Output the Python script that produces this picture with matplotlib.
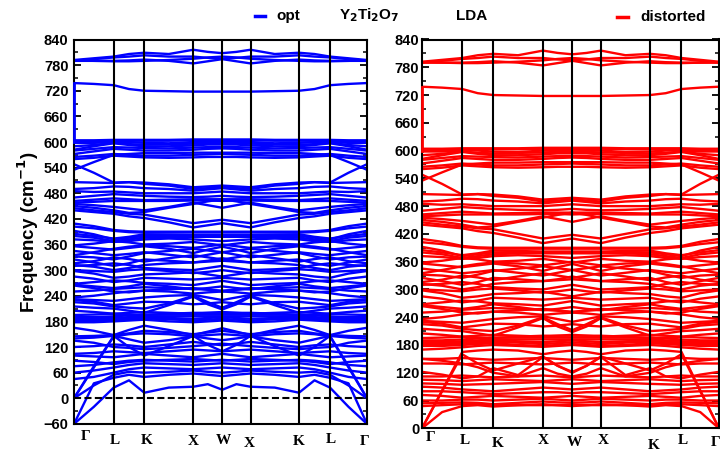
import numpy as np
import matplotlib
matplotlib.use("Agg")
import matplotlib.pyplot as plt
from matplotlib.lines import Line2D
from matplotlib.ticker import MultipleLocator

plt.rcParams['font.family'] = ['Liberation Sans', 'DejaVu Sans']
plt.rcParams['mathtext.default'] = 'bf'

# high-symmetry points along the Brillouin-zone path
kpoint_labels = ['Γ', 'L', 'K', 'X', 'W', 'X', 'K', 'L', 'Γ']
kpoint_pos = [0.0, 39.7, 70.3, 119.3, 148.3, 176.5, 225.0, 256.0, 293.0]

# phonon frequencies (cm^-1) at Γ, ½ΓL, L, ½LK, K, ½KX, X, ½XW, W
# (the path W -> X -> K -> L -> Γ retraces the same points)
upper_bands = [
    [792, 796, 800, 806, 809, 806, 816, 811, 808],
    [790, 794, 798, 800, 803, 800, 800, 797, 795],
    [790, 790, 790, 791, 793, 790, 784, 789, 794],
    [791, 790, 789, 789, 790, 792, 795, 798, 800],
    [738, 736, 733, 724, 720, 719, 718, 718, 718],
    [604, 604, 605, 605, 605, 605, 606, 606, 606],
    [600, 601, 602, 603, 603, 603, 604, 603, 603],
    [598, 598, 600, 600, 598, 597, 600, 600, 600],
    [590, 593, 598, 595, 594, 595, 596, 597, 597],
    [582, 590, 597, 593, 590, 590, 592, 594, 594],
    [580, 584, 588, 587, 586, 585, 587, 588, 588],
    [572, 578, 584, 582, 580, 580, 582, 584, 585],
    [565, 568, 572, 570, 568, 568, 570, 571, 572],
    [560, 563, 568, 566, 564, 563, 564, 565, 565],
    [535, 553, 570, 572, 574, 574, 575, 575, 575],
    [548, 528, 505, 506, 502, 498, 490, 492, 495],
    [506, 505, 504, 506, 505, 501, 494, 496, 498],
    [490, 492, 496, 495, 492, 490, 486, 489, 492],
    [485, 483, 484, 482, 480, 480, 480, 482, 484],
    [470, 474, 478, 476, 474, 472, 471, 472, 474],
    [462, 465, 468, 466, 464, 465, 466, 466, 466],
    [458, 460, 462, 462, 462, 462, 463, 463, 462],
    [455, 452, 448, 444, 440, 448, 458, 452, 446],
    [450, 446, 440, 434, 436, 446, 455, 461, 466],
    [445, 440, 436, 432, 430, 420, 410, 414, 418],
    [440, 436, 432, 426, 422, 412, 400, 405, 410],
    [409, 403, 394, 391, 390, 390, 390, 390, 390],
    [402, 398, 392, 389, 388, 388, 388, 388, 388],
    [392, 384, 372, 376, 380, 380, 380, 380, 380],
    [385, 380, 374, 378, 384, 383, 382, 382, 382],
    [380, 376, 368, 372, 376, 378, 378, 378, 378],
    [372, 370, 366, 368, 372, 374, 372, 370, 368],
    [358, 362, 368, 365, 360, 362, 366, 362, 358],
    [356, 352, 348, 352, 356, 350, 340, 348, 355],
    [345, 340, 335, 338, 342, 336, 330, 336, 342],
    [335, 342, 350, 355, 358, 356, 352, 356, 360],
    [332, 330, 325, 332, 340, 345, 350, 346, 342],
    [325, 318, 310, 316, 325, 322, 318, 322, 328],
    [316, 321, 330, 326, 320, 328, 335, 330, 325],
    [312, 308, 300, 305, 312, 316, 318, 320, 322],
    [310, 312, 316, 312, 305, 302, 300, 305, 310],
    [300, 298, 296, 300, 302, 298, 293, 296, 300],
    [298, 292, 282, 285, 290, 292, 295, 290, 285],
    [285, 280, 272, 276, 282, 280, 278, 280, 282],
    [268, 272, 276, 274, 270, 268, 265, 270, 275],
    [266, 262, 258, 262, 268, 262, 255, 258, 262],
    [264, 258, 250, 248, 252, 255, 258, 255, 250],
    [250, 252, 256, 258, 260, 258, 256, 254, 252],
    [236, 240, 246, 250, 252, 250, 245, 248, 250],
    [232, 230, 228, 232, 236, 240, 242, 236, 230],
    [230, 226, 218, 222, 226, 225, 220, 222, 225],
    [225, 222, 215, 212, 210, 222, 240, 225, 212],
    [215, 212, 210, 205, 200, 218, 238, 220, 208],
    [205, 202, 198, 196, 195, 198, 200, 200, 200],
    [195, 196, 198, 200, 202, 200, 198, 200, 202],
    [190, 190, 192, 194, 196, 196, 196, 196, 196],
    [186, 187, 188, 190, 192, 192, 192, 192, 192],
    [183, 184, 186, 188, 190, 188, 186, 188, 190],
    [180, 181, 183, 185, 187, 185, 182, 184, 186],
    [178, 178, 180, 182, 184, 180, 178, 180, 182],
]

# optimised structure: low-frequency branches (unstable modes at Γ)
opt_low_bands = [
    [-60, -20, 25, 42, 13, 25, 27, 33, 20],
    [-60, 35, 48, 55, 50, 55, 58, 55, 52],
    [0, 30, 55, 62, 60, 62, 65, 62, 60],
    [0, 75, 146, 120, 100, 122, 146, 125, 110],
    [0, 72, 145, 150, 152, 150, 145, 148, 150],
    [45, 50, 60, 68, 72, 70, 68, 70, 72],
    [60, 65, 72, 78, 82, 80, 78, 80, 82],
    [75, 78, 84, 88, 90, 88, 86, 88, 90],
    [88, 85, 80, 85, 88, 90, 92, 90, 88],
    [100, 98, 96, 100, 104, 100, 96, 100, 104],
    [104, 106, 110, 108, 106, 110, 114, 112, 110],
    [120, 122, 126, 124, 120, 126, 132, 128, 124],
    [135, 130, 120, 118, 115, 118, 122, 125, 128],
    [140, 142, 146, 138, 130, 136, 145, 140, 136],
    [145, 146, 148, 160, 170, 160, 148, 156, 164],
    [165, 158, 148, 152, 158, 155, 150, 154, 158],
]

# distorted structure: low-frequency branches
dist_low_bands = [
    [0, 35, 48, 50, 47, 50, 52, 50, 48],
    [0, 80, 160, 140, 125, 140, 155, 135, 120],
    [0, 82, 165, 168, 170, 168, 160, 165, 168],
    [48, 50, 52, 52, 50, 50, 50, 50, 50],
    [54, 55, 56, 55, 52, 55, 58, 56, 55],
    [60, 60, 62, 62, 60, 62, 64, 62, 60],
    [72, 70, 66, 68, 70, 68, 66, 68, 70],
    [80, 80, 78, 76, 74, 76, 78, 78, 76],
    [90, 88, 84, 82, 80, 84, 88, 86, 84],
    [97, 96, 94, 95, 96, 98, 100, 98, 96],
    [105, 104, 102, 104, 106, 104, 102, 104, 106],
    [112, 112, 114, 112, 110, 112, 114, 112, 110],
    [122, 116, 108, 112, 130, 115, 154, 135, 122],
    [140, 140, 138, 140, 142, 140, 138, 140, 142],
    [150, 146, 140, 132, 120, 112, 130, 118, 112],
    [150, 150, 152, 150, 148, 150, 152, 150, 148],
    [170, 172, 175, 178, 180, 178, 176, 178, 180],
]

# LO-TO splitting drawn as a vertical jump at Γ
gamma_jump = [600, 738]


def path_grid(pos):
    grid = []
    for a, b in zip(pos[:-1], pos[1:]):
        grid += [a, (a + b) / 2]
    grid.append(pos[-1])
    return np.array(grid)


def full_path(half):
    return list(half) + list(half[-2::-1])


def draw_panel(ax, bands, color, ymin, label_dx, label_y):
    grid = path_grid(kpoint_pos)
    for b in bands:
        ax.plot(grid, full_path(b), color=color, lw=1.7, zorder=2)
    ax.plot([kpoint_pos[0]] * 2, gamma_jump, color=color, lw=2,
            clip_on=False, zorder=4)
    for x in kpoint_pos[1:-1]:
        ax.axvline(x, color='k', lw=1.5, zorder=3)

    ax.set_xlim(kpoint_pos[0], kpoint_pos[-1])
    ax.set_ylim(ymin, 840)
    ax.yaxis.set_major_locator(MultipleLocator(60))
    ax.yaxis.set_minor_locator(MultipleLocator(30))
    ax.tick_params(axis='y', which='both', direction='in', left=True, right=True)
    ax.tick_params(axis='y', which='major', length=5, width=1.3,
                   labelsize=10.5)
    ax.tick_params(axis='y', which='minor', length=3, width=1.1)
    ax.tick_params(axis='x', bottom=False, labelbottom=False)
    for lbl in ax.get_yticklabels():
        lbl.set_fontweight('bold')
    for sp in ax.spines.values():
        sp.set_linewidth(1.5)

    # k-point names under the axis
    for name, x, dx, y in zip(kpoint_labels, kpoint_pos, label_dx, label_y):
        ax.text(x + dx, y, name, transform=ax.get_xaxis_transform(),
                ha='center', va='center', fontsize=11, fontweight='bold',
                family=['Liberation Serif', 'DejaVu Serif'])


fig = plt.figure(figsize=(7.2, 4.54), dpi=100)

ax1 = fig.add_axes([74 / 720, 1 - 423.9 / 454, 293 / 720, 384.4 / 454])
draw_panel(ax1, upper_bands + opt_low_bands, '#0000ff', -60,
           [12, 1, 2, 0, 1, -1, 0, 1, -2],
           [-0.034, -0.044, -0.042, -0.047, -0.044, -0.052, -0.047, -0.04, -0.047])
ax1.axhline(0, color='k', lw=1.5, ls=(0, (3.4, 1.6)), zorder=3)
ax1.tick_params(axis='y', which='major', pad=4)

ax2 = fig.add_axes([422 / 720, 1 - 428.3 / 454, 297 / 720, 388.8 / 454])
draw_panel(ax2, upper_bands + dist_low_bands, '#ff0000', 0,
           [8, 3, 4, 0, 2, 2, 4, 1, -3],
           [-0.023, -0.031, -0.04, -0.031, -0.036, -0.031, -0.043, -0.031, -0.036])
ax2.tick_params(axis='y', which='major', pad=2)

fig.text(28 / 720, 1 - 232 / 454, 'Frequency (cm$^{-1}$)',
         rotation=90, ha='center', va='center', fontsize=13.5,
         fontweight='bold')

# header: legend entries, compound and functional
fig.add_artist(Line2D([255 / 720, 265 / 720], [1 - 16 / 454] * 2,
                      color='#0000ff', lw=2.5))
fig.text(276 / 720, 1 - 16 / 454, 'opt', ha='left', va='center',
         fontsize=11, fontweight='bold')
fig.text(339 / 720, 1 - 15 / 454, 'Y$_2$Ti$_2$O$_7$',
         ha='left', va='center', fontsize=11, fontweight='bold')
fig.text(456 / 720, 1 - 16 / 454, 'LDA', ha='left', va='center',
         fontsize=11, fontweight='bold')
fig.add_artist(Line2D([617 / 720, 628 / 720], [1 - 17 / 454] * 2,
                      color='#ff0000', lw=2.5))
fig.text(640 / 720, 1 - 17 / 454, 'distorted', ha='left', va='center',
         fontsize=11, fontweight='bold')

fig.savefig('out.png', dpi=100)
